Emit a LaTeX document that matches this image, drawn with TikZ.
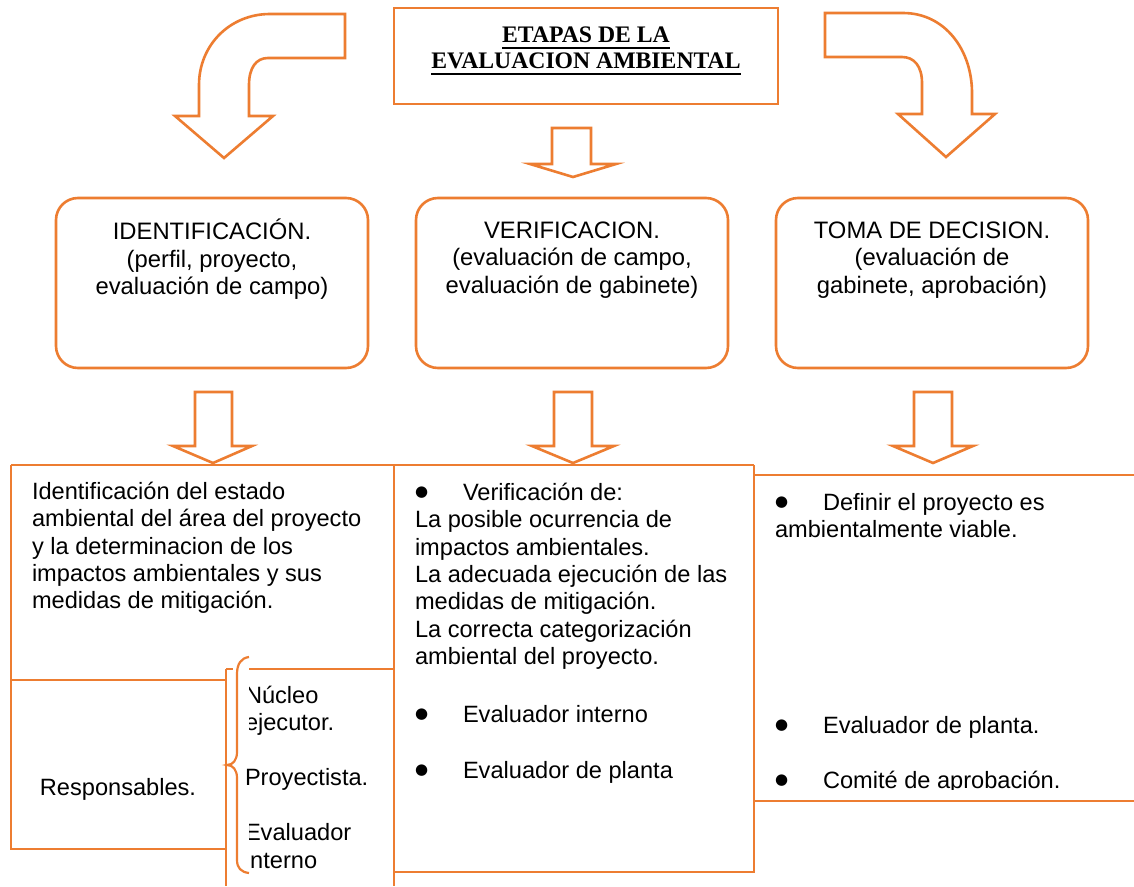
\documentclass[tikz,border=0pt]{standalone}
\usepackage{fontspec}
\setmainfont{Liberation Sans}
\newfontfamily\titlefont{Liberation Serif}
\newfontfamily\dejavu{DejaVu Sans}
\newcommand{\ulin}[1]{\setbox0\hbox{#1}\rlap{\rule[-6.5pt]{\wd0}{1.8pt}}\box0}
\newcommand{\bul}{\makebox[48pt][l]{\raisebox{3.8pt}{\dejavu\fontsize{15}{15}\selectfont ●}}}
\definecolor{orng}{HTML}{ED7D31}
\begin{document}
\begin{tikzpicture}[x=1pt,y=-1pt,
  outl/.style={draw=orng, line width=2.6pt},
  shapearrow/.style={draw=orng, line width=2.6pt, fill=white, line join=miter},
  stagebox/.style={draw=orng, line width=2.6pt, rounded corners=22pt, minimum width=312pt, minimum height=170pt, inner sep=0pt},
  titlebox/.style={draw=orng, line width=2.6pt, minimum width=384pt, minimum height=96pt, inner sep=0pt},
  titletext/.style={inner sep=0pt, outer sep=0pt, anchor=north, align=center, font=\titlefont\bfseries\fontsize{23.7}{26}\selectfont},
  stagetext/.style={inner sep=0pt, outer sep=0pt, anchor=north, align=center, font=\fontsize{23.8}{27.5}\selectfont},
  body/.style={inner sep=0pt, outer sep=0pt, anchor=north west, align=left, font=\fontsize{23.6}{27.3}\selectfont},
]
\useasboundingbox (0,0) rectangle (1134,886);
\fill[white] (0,0) rectangle (1134,886);

% ---- title ----
\node[titlebox] (title) at (586,56) {};
\node[titletext] (titletxt) at (586,23.8) {\strut\ulin{ETAPAS DE LA}\\\ulin{EVALUACION AMBIENTAL}};

% ---- curved arrows ----
\draw[shapearrow] (175,116) -- (199,116) -- (199,85)
  .. controls (199,45) and (230,14) .. (270,14) -- (345,14) -- (345,58) -- (268,58)
  .. controls (256,58) and (249,68) .. (249,85) -- (249,116) -- (273,116) -- (224,158) -- cycle;
\draw[shapearrow] (825,13) -- (903,13)
  .. controls (945,13) and (972,50) .. (972,93) -- (972,114) -- (995,114) -- (946,157) -- (898,114) -- (922,114) -- (922,83)
  .. controls (922,66) and (914,57) .. (902,57) -- (825,57) -- cycle;

% ---- small arrow below title ----
\draw[shapearrow] (552,128) -- (591,128) -- (591,164) -- (616,164) -- (573,177) -- (530,164) -- (552,164) -- cycle;

% ---- stage boxes ----
\node[stagebox] (ident) at (212,283) {};
\node[stagebox] (verif) at (572,283) {};
\node[stagebox] (decis) at (932,283) {};
\node[stagetext] (identtxt) at (212,218.9) {\strut IDENTIFICACIÓN.\\(perfil, proyecto,\\evaluación de campo)};
\node[stagetext] (veriftxt) at (572,218.9) {\strut VERIFICACION.\\(evaluación de campo,\\evaluación de gabinete)};
\node[stagetext] (decistxt) at (932,218.9) {\strut TOMA DE DECISION.\\(evaluación de\\gabinete, aprobación)};

% ---- bottom table lines ----
\draw[outl] (11,465) -- (754,465);
\draw[outl] (11,465) -- (11,849) -- (226,849);
\draw[outl] (11,680) -- (226,680);
\draw[outl] (394,465) -- (394,886);
\draw[outl] (226,669) -- (226,886);
\draw[outl] (226,669) -- (233,669);
\draw[outl] (249,669) -- (394,669);
\draw[outl] (754,465) -- (754,872) -- (394,872);
\draw[outl] (754,475) -- (1134,475);
\draw[outl] (754,801) -- (1134,801);

% brace
\draw[outl, line width=2.2pt] (249,657) .. controls (241,658) and (237,664) .. (237,674) -- (237,752)
  .. controls (237,760) and (233,765) .. (227,765)
  .. controls (233,765) and (237,770) .. (237,778) -- (237,860)
  .. controls (237,868) and (241,872) .. (249,873);

% ---- down arrows ----
\draw[shapearrow] (195,392) -- (232,392) -- (232,446) -- (252,446) -- (213,463) -- (173,446) -- (195,446) -- cycle;
\draw[shapearrow] (554,392) -- (592,392) -- (592,446) -- (614,446) -- (573,463) -- (532,446) -- (554,446) -- cycle;
\draw[shapearrow] (914,392) -- (952,392) -- (952,446) -- (973,446) -- (933,463) -- (893,446) -- (914,446) -- cycle;

% ---- bottom texts ----
\node[body] (idtext) at (32,480.5) {\strut Identificación del estado\\ambiental del área del proyecto\\y la determinacion de los\\impactos ambientales y sus\\medidas de mitigación.};
\node[body] (vertext) at (415,481.5) {\strut\bul Verificación de:\\La posible ocurrencia de\\impactos ambientales.\\La adecuada ejecución de las\\medidas de mitigación.\\La correcta categorización\\ambiental del proyecto.};
\node[body] (verresp) at (415,703.5) {\strut\bul Evaluador interno\\[28.7pt]\bul Evaluador de planta};
\node[body] (dectext) at (775,491.5) {\strut\bul Definir el proyecto es\\ambientalmente viable.};
\begin{scope}
  \clip (760,690) rectangle (1134,789);
  \node[body] (decresp) at (775,714.2) {\strut\bul Evaluador de planta.\\[27.7pt]\bul Comité de aprobación.};
\end{scope}
\node[inner sep=0pt, anchor=base, font=\fontsize{23.6}{27.3}\selectfont] (resp) at (118,795) {Responsables.};
\begin{scope}
  \clip (249,640) -- (400,640) -- (400,886) -- (249,886) -- (249,800) -- (240,800) -- (240,745) -- (249,745) -- cycle;
  \node[body, font=\fontsize{23.6}{27.5}\selectfont] (nucleo) at (245,684.2) {\strut Núcleo\\ejecutor.\\[27.5pt]Proyectista.\\[27.5pt]Evaluador\\interno};
\end{scope}
\end{tikzpicture}
\end{document}
